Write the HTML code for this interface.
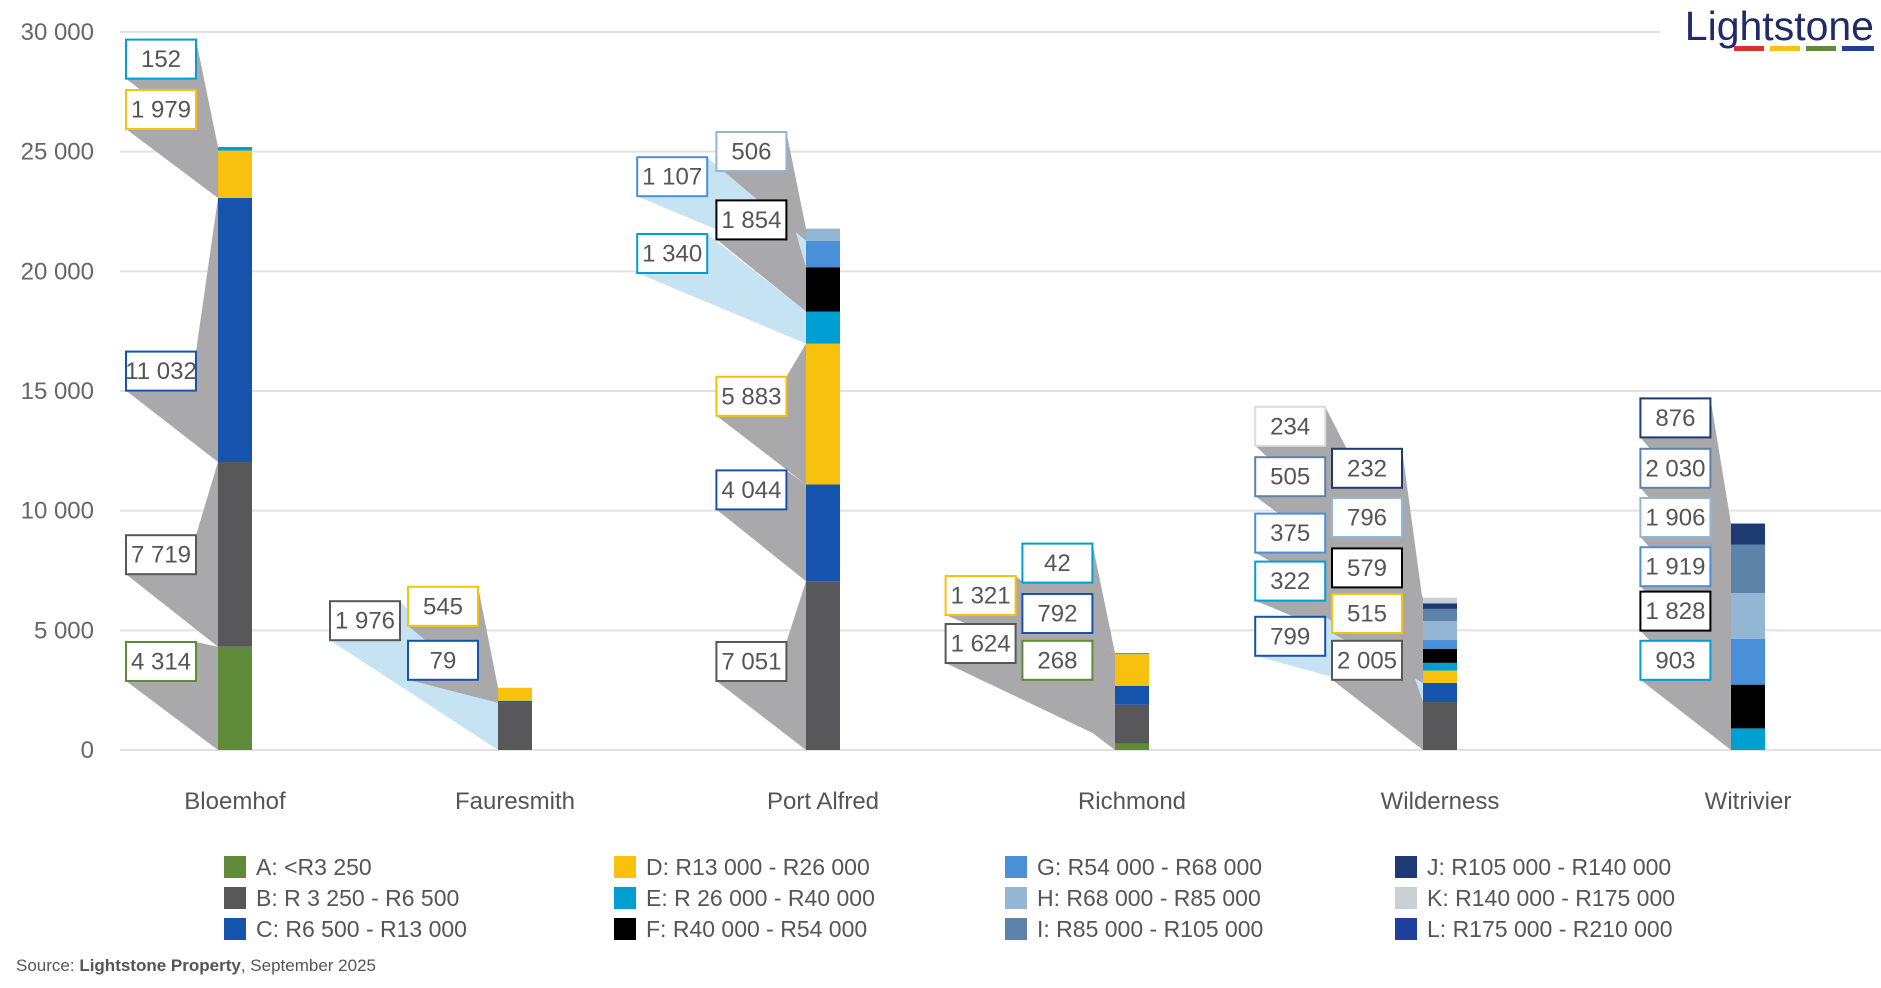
<!DOCTYPE html>
<html><head><meta charset="utf-8"><style>
body{margin:0;background:#fff;}
svg{display:block;font-family:"Liberation Sans",sans-serif;}
</style></head><body>
<svg id="chart" width="1881" height="988" viewBox="0 0 1881 988">
<g id="grid"></g>
<g id="wedges"></g>
<g id="bars"></g>
<g id="labels"></g>
<g id="xlabels"></g>
<g id="legend"></g>
<g>
<text x="1874" y="40" text-anchor="end" font-size="41" fill="#1f2a68">Lightstone</text>
<rect x="1734" y="46" width="30" height="5" fill="#d9312b"/>
<rect x="1770" y="46" width="30" height="5" fill="#f5c318"/>
<rect x="1806" y="46" width="30" height="5" fill="#5f8a3a"/>
<rect x="1842" y="46" width="32" height="5" fill="#1f3f8f"/>
</g>
<text x="16" y="971" font-size="17" fill="#555">Source: <tspan font-weight="bold">Lightstone Property</tspan>, September 2025</text>
</svg>
<script>
const categories=["Bloemhof","Fauresmith","Port Alfred","Richmond","Wilderness","Witrivier"];
const seriesNames=["A: <R3 250","B: R 3 250 - R6 500","C: R6 500 - R13 000","D: R13 000 - R26 000","E: R 26 000 - R40 000","F: R40 000 - R54 000","G: R54 000 - R68 000","H: R68 000 - R85 000","I: R85 000 - R105 000","J: R105 000 - R140 000","K: R140 000 - R175 000","L: R175 000 - R210 000"];
const seriesColors=["#5f8a3a","#58585a","#1553ad","#f8c10d","#009fd3","#000000","#4a90d9","#93b6d4","#5e83a8","#1e3a72","#c8d0d4","#2040a0"];
const serA=[4314,0,0,268,0,0];
const serB=[7719,1976,7051,1624,2005,0];
const serC=[11032,79,4044,792,799,0];
const serD=[1979,545,5883,1321,515,0];
const serE=[152,0,1340,42,322,903];
const serF=[0,0,1854,0,579,1828];
const serG=[0,0,1107,0,375,1919];
const serH=[0,0,506,0,796,1906];
const serI=[0,0,0,0,505,2030];
const serJ=[0,0,0,0,232,876];
const serK=[0,0,0,0,234,0];
const serL=[0,0,0,0,0,0];
const yTicks=[0,5000,10000,15000,20000,25000,30000];
const yTickLabels=["0","5 000","10 000","15 000","20 000","25 000","30 000"];
const series=[serA,serB,serC,serD,serE,serF,serG,serH,serI,serJ,serK,serL];
// label box layout: [category, series, left, top] (display positions, not data)
const labelLayout=[[0,4,105,33],[0,3,105,75],[0,2,105,293],[0,1,105,446],[0,0,105,535],
[1,1,275,501],[1,3,340,489],[1,2,340,534],
[2,7,597,110],[2,6,531,131],[2,5,597,167],[2,4,531,195],[2,3,597,314],[2,2,597,392],[2,1,597,535],
[3,3,788,480],[3,1,788,520],[3,4,852,453],[3,2,852,495],[3,0,852,534],
[4,10,1046,339],[4,8,1046,381],[4,6,1046,428],[4,4,1046,468],[4,2,1046,514],[4,9,1110,374],[4,7,1110,415],[4,5,1110,457],[4,3,1110,495],[4,1,1110,534],
[5,9,1367,332],[5,8,1367,374],[5,7,1367,415],[5,6,1367,456],[5,5,1367,493],[5,4,1367,534]];
const lightWedges=["1-1","2-6","2-4","4-2"];
const NS="http://www.w3.org/2000/svg";
function mk(tag,attrs,parent){const e=document.createElementNS(NS,tag);for(const k in attrs)e.setAttribute(k,attrs[k]);parent.appendChild(e);return e;}
const y0=750,yTop=32,vmax=30000;
function yScale(v){return y0-v*(y0-yTop)/vmax;}
const barCenters=[235,515,823,1132,1440,1748];
function xCenter(i){return barCenters[i];}
const barW=34;
function fmt(v){return String(v).replace(/\B(?=(\d{3})+(?!\d))/g," ");}
const G=id=>document.getElementById(id);
yTicks.forEach((t,i)=>{
  const l=mk("line",{x1:120,x2:i===yTicks.length-1?1660:1881,y1:yScale(t),y2:yScale(t),stroke:"#e2e2e2","stroke-width":2},G("grid"));
  
  
  const tx=mk("text",{x:94,y:yScale(t)+8,"text-anchor":"end","font-size":24,fill:"#666"},G("grid"));
  tx.textContent=yTickLabels[i];
  
  
});
const segs={};
categories.forEach((c,ci)=>{
  let acc=0;
  series.forEach((s,si)=>{
    const v=s[ci];if(!v)return;
    const yb=yScale(acc),yt=yScale(acc+v);acc+=v;
    segs[ci+"-"+si]={yb,yt};
    const r=mk("rect",{x:xCenter(ci)-barW/2,y:yt,width:barW,height:yb-yt,fill:seriesColors[si]},G("bars"));
    
    
  });
  const t=mk("text",{x:xCenter(ci),y:809,"text-anchor":"middle","font-size":24,fill:"#555"},G("xlabels"));
  t.textContent=c;
  
  
});
labelLayout.forEach(([ci,si,lx,ly])=>{
  const v=series[si][ci];const sg=segs[ci+"-"+si];if(!sg)return;
  const L=lx*1.2,T=ly*1.2,W=70,H=39;
  const bx=xCenter(ci)-barW/2;
  const light=lightWedges.includes(ci+"-"+si);
  const p=mk("polygon",{points:`${L},${T+H} ${L+W},${T} ${bx},${sg.yt} ${bx},${sg.yb}`,fill:light?"#c5e3f2":"#a9a9ab"},G("wedges"));
  
  
  const r=mk("rect",{x:L,y:T,width:W,height:H,fill:"#fff",stroke:seriesColors[si]==="#c8d0d4"?"#dcdcdc":seriesColors[si],"stroke-width":2},G("labels"));
  
  
  const t=mk("text",{x:L+W/2,y:T+H/2+8,"text-anchor":"middle","font-size":24,fill:"#555"},G("labels"));
  t.textContent=fmt(v);
  
  
});
const legX=[235,625,1016,1406],legY=[867,898,929];
seriesNames.forEach((n,i)=>{
  const col=Math.floor(i/3),row=i%3;
  const g=mk("g",{},G("legend"));
  
  
  mk("rect",{x:legX[col]-11,y:legY[row]-11,width:22,height:22,fill:seriesColors[i]},g);
  const t=mk("text",{x:legX[col]+21,y:legY[row]+8,"font-size":23,fill:"#555"},g);
  t.textContent=n;
});
</script>
</body></html>
